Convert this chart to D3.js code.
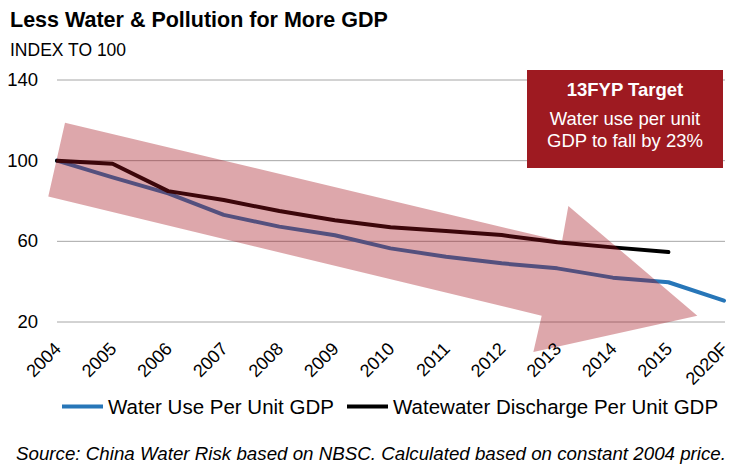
<!DOCTYPE html>
<html lang="en">
<head>
    <meta charset="UTF-8">
    <title>Less Water & Pollution for More GDP</title>
    <script src="https://cdnjs.cloudflare.com/ajax/libs/d3/7.8.5/d3.min.js"></script>
    <style>
        body {
            margin: 0;
            padding: 0;
            background: #fff;
            font-family: "Liberation Sans", Arial, sans-serif;
        }
        .grid line {
            stroke: #a6a6a6;
            stroke-width: 1px;
        }
        .series {
            fill: none;
            stroke-width: 4px;
            stroke-linejoin: round;
            stroke-linecap: round;
        }
    </style>
</head>
<body>
    <div id="chart"></div>
    <script>
        // categories and series (index, 2004 = 100)
        const years = ["2004", "2005", "2006", "2007", "2008", "2009", "2010",
                       "2011", "2012", "2013", "2014", "2015", "2020F"];
        const waterUse = [100, 91.7, 83.8, 73.1, 67.3, 63.0, 56.5, 52.4, 49.1, 46.6, 42.0, 39.7, 30.6];
        const wastewater = [100, 98.5, 84.9, 80.5, 75.0, 70.5, 67.0, 65.1, 63.1, 59.5, 57.0, 54.7];
        const yTicks = [20, 60, 100, 140];

        // big trend arrow, as [category index, index value]
        const arrowShape = [
            [0.144, 118.8], [9.086, 60.0], [9.20, 77.5], [11.52, 23.1],
            [8.57, 5.1], [8.72, 23.1], [-0.157, 82.2]
        ];

        const width = 752, height = 476;

        const svg = d3.select("#chart").append("svg")
            .attr("width", width)
            .attr("height", height);

        const x = d3.scaleLinear().domain([0, years.length - 1]).range([57, 724]);
        const y = d3.scaleLinear().domain([20, 140]).range([322, 80]);

        // title
        svg.append("text")
            .attr("x", 10).attr("y", 27)
            .style("font-size", "21.5px").style("font-weight", "bold")
            .text("Less Water & Pollution for More GDP");
        svg.append("text")
            .attr("x", 10).attr("y", 55.5)
            .style("font-size", "17.5px")
            .text("INDEX TO 100");

        // gridlines + y labels
        const grid = svg.append("g").attr("class", "grid");
        grid.selectAll("line")
            .data(yTicks)
            .enter().append("line")
            .attr("x1", 57).attr("x2", 725)
            .attr("y1", d => y(d)).attr("y2", d => y(d));
        svg.append("g").selectAll("text")
            .data(yTicks)
            .enter().append("text")
            .attr("x", 38)
            .attr("y", d => y(d) + 6)
            .attr("text-anchor", "end")
            .style("font-size", "18.5px")
            .text(d => d);

        // series
        const line = d3.line()
            .x((d, i) => x(i))
            .y(d => y(d));

        svg.append("path")
            .datum(waterUse)
            .attr("class", "series")
            .attr("stroke", "#2776b8")
            .attr("d", line);
        svg.append("path")
            .datum(wastewater)
            .attr("class", "series")
            .attr("stroke", "#000")
            .attr("d", line);

        // translucent arrow on top of the lines
        svg.append("path")
            .attr("d", d3.line().x(d => x(d[0])).y(d => y(d[1]))(arrowShape) + "Z")
            .attr("fill", "#a3101a")
            .attr("fill-opacity", 0.37);

        // x labels
        svg.append("g").selectAll("text")
            .data(years)
            .enter().append("text")
            .attr("text-anchor", "end")
            .attr("transform", (d, i) => `translate(${x(i) + 5},350) rotate(-45)`)
            .style("font-size", "18px")
            .text(d => d);

        // target box
        const box = svg.append("g");
        box.append("rect")
            .attr("x", 527).attr("y", 70)
            .attr("width", 196).attr("height", 98)
            .attr("fill", "#9e1a21");
        const boxText = [
            { t: "13FYP Target", y: 95.5, bold: true },
            { t: "Water use per unit", y: 125 },
            { t: "GDP to fall by 23%", y: 146.5 }
        ];
        box.selectAll("text")
            .data(boxText)
            .enter().append("text")
            .attr("x", 625).attr("y", d => d.y)
            .attr("text-anchor", "middle")
            .attr("fill", "#fff")
            .style("font-size", "18.5px")
            .style("font-weight", d => d.bold ? "bold" : "normal")
            .text(d => d.t);

        // legend
        const legend = [
            { name: "Water Use Per Unit GDP", color: "#2776b8", x0: 62, x1: 103, tx: 108 },
            { name: "Watewater Discharge Per Unit GDP", color: "#000", x0: 347, x1: 388, tx: 393 }
        ];
        const lg = svg.append("g").selectAll("g")
            .data(legend)
            .enter().append("g");
        lg.append("line")
            .attr("x1", d => d.x0).attr("x2", d => d.x1)
            .attr("y1", 406.5).attr("y2", 406.5)
            .attr("stroke", d => d.color)
            .attr("stroke-width", 4);
        lg.append("text")
            .attr("x", d => d.tx).attr("y", 413.5)
            .style("font-size", "20.5px")
            .text(d => d.name);

        // source
        svg.append("text")
            .attr("x", 16).attr("y", 460)
            .attr("textLength", 710)
            .attr("lengthAdjust", "spacingAndGlyphs")
            .style("font-size", "18.5px")
            .style("font-style", "italic")
            .text("Source: China Water Risk based on NBSC. Calculated based on constant 2004 price.");
    </script>
</body>
</html>
